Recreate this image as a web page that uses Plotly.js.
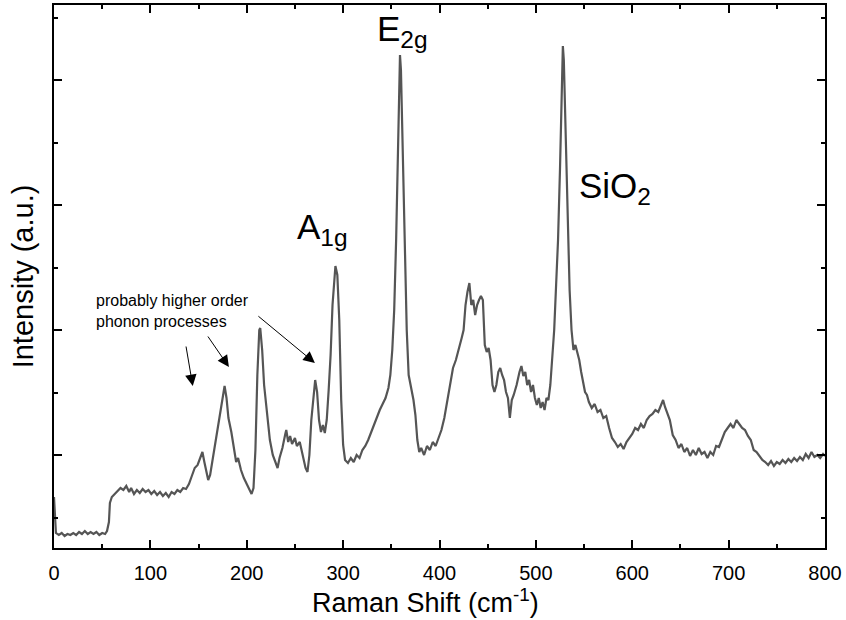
<!DOCTYPE html>
<html>
<head>
<meta charset="utf-8">
<script src="https://cdn.plot.ly/plotly-3.0.1.min.js"></script>
<style>html,body{margin:0;padding:0;background:#fff;}#chart{width:846px;height:620px;}</style>
</head>
<body>
<div id="chart"></div>
<script>
// Raman shift (cm^-1)
const ramanShift = [0,1,2,5,8,11,14,17,20,23,26,29,32,35,38,41,44,47,50,53,55,57,58,60,63,66,69,72,75,78,80,83,86,89,92,95,98,101,104,107,110,113,116,119,122,125,128,131,134,137,140,143,146,149,152,154,156,158,160,162,165,168,171,174,176,177,179,181,184,187,189,191,194,197,200,203,205,207,209,211,213,214,216,218,221,224,227,230,232,234,237,240,241,243,245,247,250,252,255,258,261,263,265,267,270,271,273,275,277,279,281,283,285,287,289,291,292,294,296,298,300,302,305,308,311,314,317,320,323,326,329,332,335,338,341,344,347,349,351,353,355,356,357,358,359,360,361,362,364,366,368,370,373,375,377,379,381,384,387,390,393,396,399,402,405,408,411,414,417,420,423,425,427,429,431,433,435,437,439,441,443,445,447,449,451,453,455,457,459,461,463,465,467,469,471,473,475,477,480,483,485,487,489,491,493,495,497,499,501,503,505,507,509,511,513,515,517,519,521,523,525,526,527,528,529,530,531,533,535,537,539,541,543,545,547,549,551,553,555,558,561,564,567,570,573,576,579,582,585,588,591,594,597,600,603,606,609,612,615,618,621,624,627,630,632,634,636,639,642,645,648,651,654,657,660,663,666,669,672,675,678,681,684,687,690,693,696,699,702,705,708,711,714,717,720,723,726,729,732,735,738,741,744,747,750,753,756,759,762,765,768,771,774,777,780,783,786,789,792,795,798,800];
// Intensity (arbitrary units)
const intensity = [664,480,376,360,376,352,368,360,376,360,384,368,392,368,384,368,384,360,376,368,392,464,616,664,688,712,736,720,752,704,736,688,720,696,728,704,720,688,712,680,704,672,696,664,704,688,720,704,736,728,768,832,896,920,992,1024,944,880,800,840,976,1120,1264,1400,1504,1552,1456,1296,1184,1024,944,976,880,816,768,720,688,736,1040,1640,2000,2016,1840,1560,1360,1120,1000,944,896,976,1056,1168,1200,1104,1152,1088,1136,1072,1104,1000,896,864,1000,1280,1560,1600,1504,1280,1184,1240,1176,1280,1520,1800,2200,2440,2512,2440,2080,1440,1080,960,936,976,944,1000,976,1040,1072,1120,1184,1240,1296,1360,1408,1456,1536,1640,1840,2160,2720,3120,3680,4040,4200,4080,3760,3280,2640,2000,1640,1560,1440,1320,1120,1024,1056,1000,1072,1040,1104,1072,1136,1200,1296,1440,1560,1696,1760,1840,1936,2000,2200,2304,2376,2200,2240,2120,2200,2240,2272,2240,1880,1824,1856,1760,1560,1504,1560,1664,1696,1640,1600,1504,1456,1296,1440,1480,1560,1664,1712,1632,1664,1560,1600,1504,1560,1456,1400,1456,1376,1424,1360,1456,1440,1560,1800,2000,2360,2720,3280,3680,3960,4272,4160,3840,3440,2720,2320,2000,1840,1880,1824,1760,1664,1584,1504,1480,1424,1376,1408,1344,1360,1296,1312,1216,1136,1104,1064,1088,1048,1104,1136,1168,1216,1200,1248,1216,1280,1312,1328,1360,1344,1400,1440,1384,1344,1280,1160,1120,1056,1088,1024,1056,992,1040,1000,1056,1008,1024,976,1024,1000,1072,1064,1120,1184,1216,1248,1216,1280,1248,1216,1200,1152,1120,1040,1024,992,960,944,920,952,912,944,928,960,936,968,944,976,952,984,960,1008,976,1024,984,1000,976,1008,992];

const xTickVals = [0,100,200,300,400,500,600,700,800];
const xTickText = ['0','100','200','300','400','500','600','700','800'];
const yTickVals = [1000,2000,3000,4000];
const xTitle = 'Raman Shift (cm<sup>-1</sup>)';
const yTitle = 'Intensity (a.u.)';

const peakLabels = ['E<sub>2g</sub>','A<sub>1g</sub>','SiO<sub>2</sub>'];
const peakLabelX = [362,279,582];
const peakLabelY = [4390,2810,3140];

const noteText = 'probably higher order<br>phonon processes';
const arrowHeadX = [144,181.5,270.7];
const arrowHeadY = [1552,1704,1736];

const font = 'Liberation Sans, Arial, sans-serif';

const annotations = [];
for (let i = 0; i < peakLabels.length; i++) {
  annotations.push({x: peakLabelX[i], y: peakLabelY[i], xref:'x', yref:'y', text: peakLabels[i], showarrow:false,
    font:{family:font, size:35, color:'#000'}});
}
annotations.push({x: 41.5, y: 2150, xref:'x', yref:'y', text: noteText, showarrow:false, xanchor:'left', align:'left',
  font:{family:font, size:16, color:'#000'}});
const tails = [[-7,-41],[-22,-32],[-58,-48]];
for (let i = 0; i < arrowHeadX.length; i++) {
  annotations.push({x: arrowHeadX[i], y: arrowHeadY[i], xref:'x', yref:'y', text:'', showarrow:true,
    ax: tails[i][0], ay: tails[i][1], arrowhead:2, arrowsize:2.3, arrowwidth:1, arrowcolor:'#000', standoff:0});
}
// x-axis title placed as annotation below the axis
annotations.push({x: 0.482, y: -0.131, xref:'paper', yref:'paper', text: xTitle, showarrow:false,
  xanchor:'center', yanchor:'bottom', borderpad:0, font:{family:font, size:27, color:'#000'}});

const trace = {x: ramanShift, y: intensity, type:'scatter', mode:'lines', line:{color:'#555555', width:2.2}, hoverinfo:'skip'};

const layout = {
  width: 846, height: 620,
  margin: {l:54, r:21, t:5, b:72},
  paper_bgcolor:'#fff', plot_bgcolor:'#fff',
  showlegend:false,
  font:{family:font, color:'#000'},
  xaxis: {range:[0,800], tickvals:xTickVals, ticktext:xTickText, ticks:'inside', ticklen:8, tickwidth:2, tickcolor:'#000',
    showline:true, linecolor:'#000', linewidth:2, mirror:'allticks', showgrid:false, zeroline:false,
    ticklabelstandoff:6,
    tickfont:{family:font, size:20, color:'#000'},
    minor:{dtick:50, tick0:0, ticks:'inside', ticklen:4, tickwidth:2, tickcolor:'#000', showgrid:false}},
  yaxis: {range:[256,4600], tickvals:yTickVals, showticklabels:false, ticks:'inside', ticklen:8, tickwidth:2, tickcolor:'#000',
    showline:true, linecolor:'#000', linewidth:2, mirror:'allticks', showgrid:false, zeroline:false,
    minor:{dtick:500, tick0:0, ticks:'inside', ticklen:4, tickwidth:2, tickcolor:'#000', showgrid:false},
    title:{text:yTitle, font:{family:font, size:29, color:'#000'}, standoff:10}},
  annotations: annotations
};

Plotly.newPlot('chart', [trace], layout, {displayModeBar:false, staticPlot:true});
</script>
</body>
</html>
